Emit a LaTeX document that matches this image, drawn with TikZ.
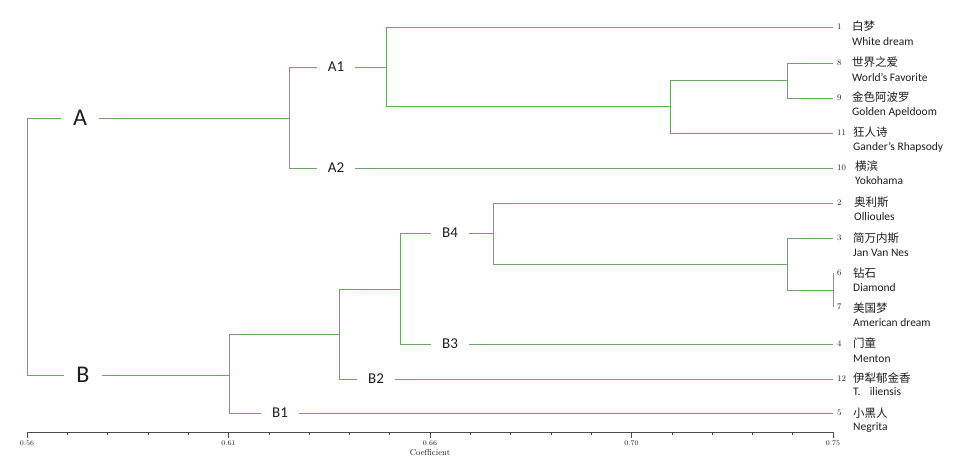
\documentclass[tikz,border=0pt]{standalone}
\usepackage{fontspec}
\newfontfamily\carl{Carlito}
\newfontfamily\cjk{Noto Sans CJK SC}
\definecolor{tree}{RGB}{108,165,100}
\definecolor{txt}{RGB}{30,30,30}
\begin{document}
\begin{tikzpicture}[x=1pt,y=-1pt,
  branch/.style={draw=tree,line width=0.9pt},
  biglab/.style={font=\carl\fontsize{24}{26}\selectfont,text=txt,inner xsep=12pt,inner ysep=0pt},
  sublab/.style={font=\carl\fontsize{15}{17}\selectfont,text=txt,inner xsep=11pt,inner ysep=0pt},
  num/.style={font=\fontsize{8.5}{9}\selectfont,text=txt,anchor=west,inner sep=0pt},
  cn/.style={font=\cjk\fontsize{11.5}{13}\selectfont,text=txt,anchor=west,inner sep=0pt},
  en/.style={font=\carl\fontsize{11.5}{13}\selectfont,text=txt,anchor=west,inner sep=0pt},
  axis/.style={draw=black!70,line width=0.6pt},
  ticklab/.style={font=\fontsize{7}{8}\selectfont,text=txt,inner sep=0pt}]
\useasboundingbox (0,0) rectangle (968,471);

% label nodes
\node[biglab] (A) at (80,118) {A};
\node[biglab] (B) at (83,375) {B};
\node[sublab] (A1) at (336,67) {A1};
\node[sublab] (A2) at (336,168) {A2};
\node[sublab] (B1) at (280,413) {B1};
\node[sublab] (B2) at (376,379) {B2};
\node[sublab] (B3) at (450,344) {B3};
\node[sublab] (B4) at (450,233) {B4};

% junction coordinates
\coordinate (r) at (27,118);
\coordinate (rb) at (27,375);
\coordinate (jA) at (289,118);
\coordinate (jA1) at (386,67);
\coordinate (j8911) at (670,106);
\coordinate (j89) at (787,80);
\coordinate (jB) at (229,375);
\coordinate (jBB) at (339,334);
\coordinate (jB34) at (400,289);
\coordinate (jB4) at (493,233);
\coordinate (j367) at (787,264);
\coordinate (j67) at (833,290);

% leaf end coordinates
\coordinate (l1) at (833,27);
\coordinate (l8) at (833,63);
\coordinate (l9) at (833,98);
\coordinate (l11) at (833,133);
\coordinate (l10) at (833,168);
\coordinate (l2) at (833,203);
\coordinate (l3) at (833,238);
\coordinate (l6) at (833,273);
\coordinate (l7) at (833,307);
\coordinate (l4) at (833,344);
\coordinate (l12) at (833,379);
\coordinate (l5) at (833,413);

% tree
\draw[branch] (rb) -- (r) -- (A.west);
\draw[branch] (rb) -- (B.west);
\draw[branch] (A.east) -- (jA);
\draw[branch] (jA) |- (A1.west);
\draw[branch] (jA) |- (A2.west);
\draw[branch] (A1.east) -- (jA1);
\draw[branch] (jA1) |- (l1);
\draw[branch] (jA1) |- (j8911);
\draw[branch] (j8911) |- (j89);
\draw[branch] (j8911) |- (l11);
\draw[branch] (j89) |- (l8);
\draw[branch] (j89) |- (l9);
\draw[branch] (A2.east) -- (l10);

\draw[branch] (B.east) -- (jB);
\draw[branch] (jB) |- (B1.west);
\draw[branch] (B1.east) -- (l5);
\draw[branch] (jB) |- (jBB);
\draw[branch] (jBB) |- (B2.west);
\draw[branch] (B2.east) -- (l12);
\draw[branch] (jBB) |- (jB34);
\draw[branch] (jB34) |- (B4.west);
\draw[branch] (jB34) |- (B3.west);
\draw[branch] (B3.east) -- (l4);
\draw[branch] (B4.east) -- (jB4);
\draw[branch] (jB4) |- (l2);
\draw[branch] (jB4) |- (j367);
\draw[branch] (j367) |- (l3);
\draw[branch] (j367) |- (j67);
\draw[branch] (l6) -- (l7);

% leaf numbers
\node[num] (n1) at (837,27) {1};
\node[num] (n8) at (837,63) {8};
\node[num] (n9) at (837,98) {9};
\node[num] (n11) at (837,133) {11};
\node[num] (n10) at (837,168) {10};
\node[num] (n2) at (837,203) {2};
\node[num] (n3) at (837,238) {3};
\node[num] (n6) at (837,273) {6};
\node[num] (n7) at (837,307) {7};
\node[num] (n4) at (837,344) {4};
\node[num] (n12) at (837,379) {12};
\node[num] (n5) at (837,413) {5};

% leaf names
\node[cn] (c1) at (852,26) {白梦};
\node[en] (e1) at (852,42) {White dream};
\node[cn] (c8) at (852,62) {世界之爱};
\node[en] (e8) at (852,77) {World’s Favorite};
\node[cn] (c9) at (852,97) {金色阿波罗};
\node[en] (e9) at (852,112) {Golden Apeldoom};
\node[cn] (c11) at (853,132) {狂人诗};
\node[en] (e11) at (853,147) {Gander’s Rhapsody};
\node[cn] (c10) at (855,166) {横滨};
\node[en] (e10) at (855,181) {Yokohama};
\node[cn] (c2) at (854,202) {奥利斯};
\node[en] (e2) at (854,217) {Ollioules};
\node[cn] (c3) at (853,238) {简万内斯};
\node[en] (e3) at (853,253) {Jan Van Nes};
\node[cn] (c6) at (853,273) {钻石};
\node[en] (e6) at (853,288) {Diamond};
\node[cn] (c7) at (853,308) {美国梦};
\node[en] (e7) at (853,323) {American dream};
\node[cn] (c4) at (853,343) {门童};
\node[en] (e4) at (853,359) {Menton};
\node[cn] (c12) at (853,378) {伊犁郁金香};
\node[en] (e12) at (853,392) {T.\hspace{0.8em}iliensis};
\node[cn] (c5) at (853,413) {小黑人};
\node[en] (e5) at (853,428) {Negrita};

% axis
\coordinate (ax0) at (27,432);
\coordinate (ax1) at (833,432);
\draw[axis] (ax0) -- (ax1);
\foreach \i in {0,...,20}{
  \pgfmathsetmacro{\xx}{27+\i*40.3}
  \draw[axis] (\xx,432) -- (\xx,435);
}
\foreach \i in {0,5,10,15,20}{
  \pgfmathsetmacro{\xx}{27+\i*40.3}
  \draw[axis] (\xx,432) -- (\xx,438);
}
\node[ticklab] (t1) at (27,443) {0.56};
\node[ticklab] (t2) at (228.5,443) {0.61};
\node[ticklab] (t3) at (430,443) {0.66};
\node[ticklab] (t4) at (631.5,443) {0.70};
\node[ticklab] (t5) at (833,443) {0.75};
\node[font=\fontsize{8.5}{10}\selectfont,text=txt,inner sep=0pt] (coef) at (430,453) {Coefficient};
\end{tikzpicture}
\end{document}
